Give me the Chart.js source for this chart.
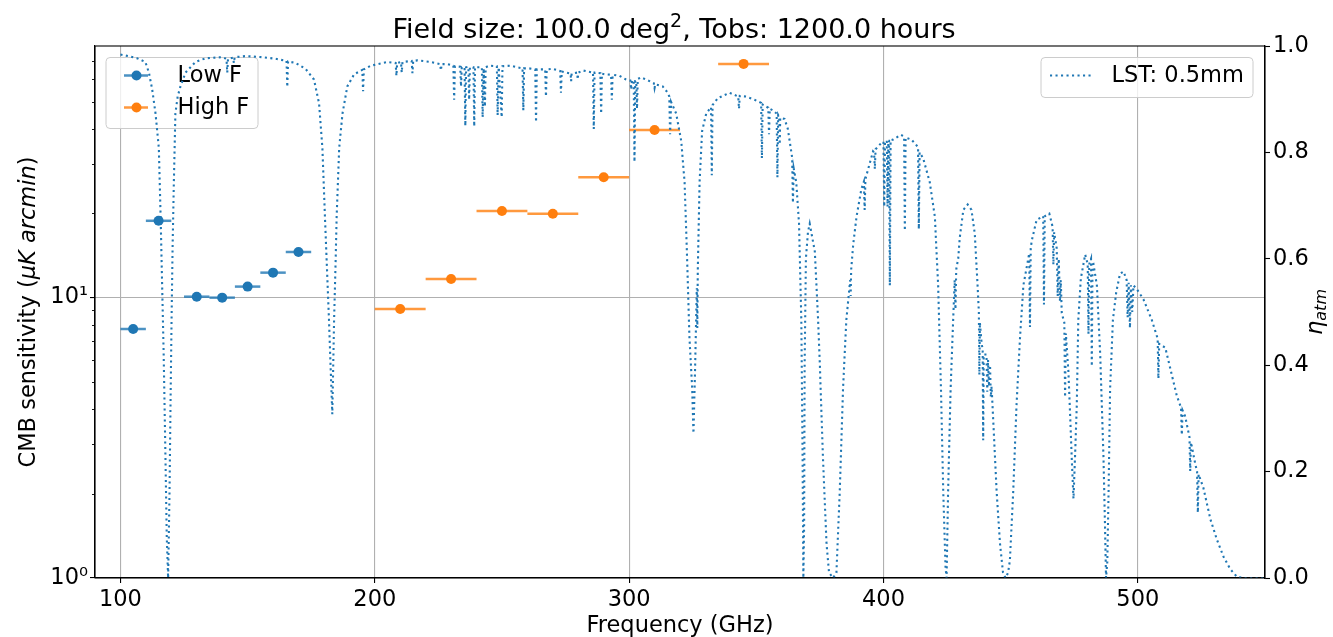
<!DOCTYPE html>
<html>
<head>
<meta charset="utf-8">
<title>CMB sensitivity per band</title>
<script src="https://cdn.jsdelivr.net/npm/chart.js@4.4.1/dist/chart.umd.min.js"></script>
<style>
  html, body { margin: 0; padding: 0; background: #fff; }
  canvas { display: block; }
</style>
</head>
<body>
<canvas id="sensChart" width="1333" height="637"></canvas>
<script>
// Band centres (GHz), CMB sensitivity (uK arcmin) and half band widths
const lowFreq = [105, 115, 130, 140, 150, 160, 170];
const lowSens = [7.73, 18.8, 10.08, 10.0, 10.95, 12.28, 14.55];
const lowHalfBand = [5, 5, 5, 5, 5, 5, 5];

const highFreq = [210, 230, 250, 270, 290, 310, 345];
const highSens = [9.11, 11.66, 20.37, 19.92, 26.9, 39.6, 68.2];
const highHalfBand = [10, 10, 10, 10, 10, 10, 10];

// Atmospheric transmission, 0.5 mm PWV
const atmFreq = [
  100.0, 103.0, 106.5, 109.8, 111.2, 112.5, 113.8, 115.1, 115.8, 116.4,
  117.0, 117.7, 118.2, 118.75, 119.3, 119.7, 120.1, 120.5, 121.0, 121.6,
  122.5, 123.6, 125.6, 129.5, 133.5, 140.0, 141.7, 142.0, 142.3, 144.3,
  144.6, 144.9, 149.2, 155.8, 161.0, 165.3, 165.6, 165.9, 168.9, 172.8,
  176.1, 178.1, 179.4, 180.4, 181.2, 182.0, 182.7, 183.3, 184.0, 184.6,
  185.0, 186.0, 187.3, 189.2, 191.9, 195.1, 195.4, 195.7, 198.4, 205.0,
  208.2, 208.5, 208.8, 210.3, 210.6, 210.9, 214.5, 214.8, 215.1, 216.8,
  222.0, 225.7, 226.0, 226.3, 228.6, 230.9, 231.2, 231.5, 233.6, 233.9,
  234.2, 235.3, 235.6, 235.9, 236.8, 237.1, 237.4, 238.8, 239.1, 239.4,
  241.1, 242.1, 242.4, 242.8, 243.3, 243.6, 245.0, 248.0, 248.3, 248.7,
  249.9, 250.2, 253.5, 256.1, 258.1, 258.4, 258.7, 260.7, 263.1, 263.4,
  263.7, 267.0, 267.3, 267.6, 269.9, 272.9, 273.2, 273.5, 275.2, 277.0,
  277.2, 277.4, 279.6, 279.8, 280.0, 281.8, 285.8, 286.1, 286.4, 288.7,
  289.0, 289.3, 290.3, 292.9, 293.2, 293.5, 296.2, 298.8, 300.5, 300.8,
  301.1, 301.8, 302.1, 302.4, 302.8, 303.1, 303.4, 304.7, 308.0, 309.7,
  310.0, 310.3, 313.2, 315.2, 315.8, 316.1, 316.5, 318.5, 320.5, 321.8,
  322.7, 323.7, 324.8, 325.3, 325.9, 326.6, 326.8, 327.0, 327.7, 328.7,
  330.3, 332.2, 332.5, 332.8, 334.9, 339.5, 342.9, 343.2, 343.5, 346.0,
  349.3, 351.9, 352.2, 352.5, 353.9, 354.7, 355.0, 355.3, 356.5, 358.0,
  358.3, 358.6, 359.0, 359.2, 359.4, 361.1, 362.4, 364.1, 364.4, 364.7,
  365.7, 366.8, 367.7, 368.2, 368.5, 368.8, 369.0, 369.5, 370.3, 371.0,
  373.0, 374.3, 375.0, 375.2, 376.2, 377.6, 378.6, 380.2, 381.5, 382.8,
  384.1, 385.4, 386.9, 387.1, 387.3, 388.1, 389.4, 391.3, 392.3, 392.6,
  392.9, 394.0, 395.9, 396.3, 396.6, 396.9, 399.2, 400.0, 400.3, 400.6,
  401.3, 401.6, 401.9, 402.2, 402.5, 402.8, 403.8, 406.8, 408.1, 408.4,
  408.7, 411.0, 413.6, 413.9, 414.2, 415.6, 418.2, 420.2, 421.5, 422.6,
  423.5, 424.4, 424.8, 425.4, 426.4, 427.4, 428.0, 428.3, 428.6, 429.4,
  430.0, 431.4, 433.1, 434.6, 435.9, 437.0, 437.5, 437.7, 437.9, 438.6,
  439.0, 439.2, 439.4, 440.5, 440.8, 441.1, 441.5, 441.9, 442.2, 442.5,
  443.2, 444.5, 445.8, 447.0, 448.0, 449.0, 449.7, 451.0, 452.3, 453.7,
  455.0, 457.3, 457.6, 457.9, 458.3, 460.2, 462.8, 463.1, 463.4, 465.2,
  466.5, 466.8, 467.1, 468.1, 468.5, 468.9, 469.4, 469.7, 470.1, 471.1,
  471.4, 471.7, 472.7, 473.4, 474.0, 474.7, 475.4, 476.0, 476.6, 477.6,
  479.3, 480.3, 480.6, 480.9, 481.6, 481.9, 482.2, 482.5, 483.9, 485.2,
  486.5, 487.1, 487.5, 488.0, 488.5, 489.1, 490.2, 491.5, 493.0, 494.4,
  495.6, 496.0, 496.4, 496.9, 497.3, 497.8, 498.3, 499.6, 502.2, 505.5,
  507.8, 508.1, 508.4, 510.8, 512.7, 515.3, 517.0, 517.3, 517.6, 518.6,
  520.3, 520.6, 520.9, 522.6, 523.3, 523.6, 523.9, 525.8, 528.5, 531.1,
  533.7, 536.3, 539.0, 541.6, 550.0
];
const atmTrans = [
  0.984, 0.981, 0.977, 0.970, 0.950, 0.918, 0.873, 0.808, 0.680, 0.550,
  0.420, 0.227, 0.080, 0.000, 0.162, 0.330, 0.485, 0.620, 0.744, 0.873,
  0.905, 0.924, 0.950, 0.970, 0.977, 0.979, 0.976, 0.950, 0.976, 0.978,
  0.968, 0.979, 0.981, 0.979, 0.976, 0.972, 0.923, 0.971, 0.968, 0.957,
  0.937, 0.892, 0.808, 0.679, 0.582, 0.485, 0.388, 0.308, 0.485, 0.595,
  0.679, 0.808, 0.873, 0.924, 0.947, 0.955, 0.915, 0.956, 0.963, 0.970,
  0.968, 0.944, 0.968, 0.970, 0.950, 0.970, 0.972, 0.949, 0.972, 0.973,
  0.970, 0.966, 0.954, 0.966, 0.966, 0.963, 0.899, 0.962, 0.961, 0.924,
  0.960, 0.960, 0.850, 0.960, 0.961, 0.899, 0.960, 0.960, 0.849, 0.960,
  0.960, 0.960, 0.866, 0.958, 0.886, 0.960, 0.963, 0.962, 0.870, 0.960,
  0.866, 0.962, 0.963, 0.960, 0.958, 0.879, 0.958, 0.958, 0.956, 0.857,
  0.956, 0.956, 0.905, 0.956, 0.957, 0.953, 0.912, 0.952, 0.950, 0.948,
  0.934, 0.948, 0.950, 0.937, 0.950, 0.954, 0.950, 0.844, 0.950, 0.949,
  0.873, 0.948, 0.947, 0.946, 0.899, 0.946, 0.944, 0.937, 0.935, 0.918,
  0.935, 0.935, 0.782, 0.934, 0.934, 0.882, 0.938, 0.941, 0.934, 0.930,
  0.921, 0.928, 0.924, 0.912, 0.905, 0.834, 0.895, 0.873, 0.821, 0.744,
  0.614, 0.453, 0.356, 0.272, 0.388, 0.545, 0.470, 0.580, 0.744, 0.840,
  0.873, 0.885, 0.757, 0.889, 0.902, 0.912, 0.905, 0.882, 0.906, 0.905,
  0.899, 0.893, 0.789, 0.890, 0.886, 0.884, 0.834, 0.882, 0.879, 0.873,
  0.753, 0.870, 0.866, 0.815, 0.865, 0.863, 0.844, 0.790, 0.705, 0.770,
  0.744, 0.666, 0.485, 0.227, 0.000, 0.100, 0.400, 0.600, 0.650, 0.666,
  0.614, 0.485, 0.400, 0.369, 0.227, 0.065, 0.010, 0.000, 0.010, 0.162,
  0.356, 0.485, 0.560, 0.530, 0.580, 0.627, 0.679, 0.731, 0.745, 0.692,
  0.750, 0.769, 0.802, 0.800, 0.769, 0.806, 0.818, 0.820, 0.698, 0.820,
  0.822, 0.698, 0.822, 0.822, 0.550, 0.823, 0.824, 0.833, 0.830, 0.653,
  0.828, 0.824, 0.810, 0.656, 0.800, 0.789, 0.744, 0.679, 0.550, 0.356,
  0.162, 0.020, 0.000, 0.162, 0.356, 0.485, 0.560, 0.505, 0.580, 0.601,
  0.640, 0.692, 0.702, 0.692, 0.647, 0.550, 0.500, 0.382, 0.480, 0.440,
  0.430, 0.259, 0.420, 0.420, 0.350, 0.410, 0.360, 0.400, 0.340, 0.360,
  0.291, 0.162, 0.065, 0.010, 0.000, 0.010, 0.033, 0.162, 0.324, 0.453,
  0.550, 0.610, 0.472, 0.620, 0.634, 0.673, 0.680, 0.514, 0.680, 0.685,
  0.660, 0.589, 0.650, 0.620, 0.530, 0.600, 0.520, 0.560, 0.498, 0.480,
  0.340, 0.460, 0.388, 0.304, 0.227, 0.149, 0.240, 0.324, 0.485, 0.563,
  0.608, 0.590, 0.459, 0.590, 0.600, 0.398, 0.595, 0.592, 0.550, 0.421,
  0.227, 0.098, 0.000, 0.030, 0.162, 0.356, 0.485, 0.537, 0.572, 0.576,
  0.560, 0.490, 0.555, 0.470, 0.550, 0.500, 0.550, 0.543, 0.524, 0.485,
  0.450, 0.375, 0.440, 0.433, 0.395, 0.343, 0.320, 0.269, 0.315, 0.304,
  0.265, 0.201, 0.255, 0.214, 0.200, 0.123, 0.195, 0.169, 0.111, 0.072,
  0.040, 0.017, 0.002, 0.000, 0.000
];

// Axis ticks
const freqTicks = [100, 200, 300, 400, 500];
const sensTicks = [1, 10];
const sensTickLabels = ['10\u2070', '10\u00b9'];
const sensMinorTicks = [2, 3, 4, 5, 6, 7, 8, 9, 20, 30, 40, 50, 60, 70];
const etaTicks = [0, 0.2, 0.4, 0.6, 0.8, 1.0];

const FONT = '"DejaVu Sans", sans-serif';
const BLUE = '#1f77b4';
const ORANGE = '#ff7f0e';
const GRID = '#b0b0b0';
const DOTS = [2.1, 3.4];
const MARKER_R = 5;
const BAR_W = 2.5;

function toPoints(xs, ys) {
  return xs.map((x, i) => ({ x: x, y: ys[i] }));
}

// draw a run of text pieces with different fonts/offsets, centred on x
function drawRuns(c, runs, x, y) {
  let total = 0;
  runs.forEach(r => {
    c.font = r.font;
    r.w = c.measureText(r.text).width;
    total += r.w;
  });
  let cx = x - total / 2;
  c.textAlign = 'left';
  runs.forEach(r => {
    c.font = r.font;
    c.fillText(r.text, cx, y + (r.dy || 0));
    cx += r.w;
  });
}

function legendFrame(c, x, y, w, h) {
  const r = 4;
  c.save();
  c.beginPath();
  c.moveTo(x + r, y);
  c.arcTo(x + w, y, x + w, y + h, r);
  c.arcTo(x + w, y + h, x, y + h, r);
  c.arcTo(x, y + h, x, y, r);
  c.arcTo(x, y, x + w, y, r);
  c.closePath();
  c.fillStyle = 'rgba(255,255,255,0.8)';
  c.fill();
  c.strokeStyle = '#cccccc';
  c.lineWidth = 1;
  c.stroke();
  c.restore();
}

function drawErrorBars(chart, index) {
  const ds = chart.data.datasets[index];
  const xs = chart.scales.x;
  const ys = chart.scales.y;
  const c = chart.ctx;
  c.save();
  c.strokeStyle = ds.borderColor;
  c.globalAlpha = 0.8;
  c.lineWidth = BAR_W;
  ds.data.forEach((p, i) => {
    const py = ys.getPixelForValue(p.y);
    c.beginPath();
    c.moveTo(xs.getPixelForValue(p.x - ds.halfBand[i]), py);
    c.lineTo(xs.getPixelForValue(p.x + ds.halfBand[i]), py);
    c.stroke();
  });
  c.restore();
}

function drawBandLegend(chart) {
  const c = chart.ctx;
  legendFrame(c, 106, 57.5, 152, 71);
  const rows = [{ ds: chart.data.datasets[0], y: 75.5 }, { ds: chart.data.datasets[1], y: 107.5 }];
  c.save();
  rows.forEach(row => {
    c.strokeStyle = row.ds.borderColor;
    c.globalAlpha = 0.8;
    c.lineWidth = BAR_W;
    c.beginPath();
    c.moveTo(124, row.y);
    c.lineTo(148, row.y);
    c.stroke();
    c.globalAlpha = 1;
    c.fillStyle = row.ds.backgroundColor;
    c.beginPath();
    c.arc(136.5, row.y, MARKER_R, 0, Math.PI * 2);
    c.fill();
    c.fillStyle = '#000';
    c.font = '22.5px ' + FONT;
    c.textAlign = 'left';
    c.textBaseline = 'middle';
    c.fillText(row.ds.label, 177.5, row.y + 1);
  });
  c.restore();
}

const decorations = {
  id: 'decorations',
  beforeDatasetDraw(chart, args) {
    const ds = chart.data.datasets[args.index];
    if (ds.halfBand) drawErrorBars(chart, args.index);
    if (ds.yAxisID === 'y2') drawBandLegend(chart);
  },
  afterDraw(chart) {
    const c = chart.ctx;
    const a = chart.chartArea;
    const ys = chart.scales.y;
    c.save();

    // frame on all four sides
    c.strokeStyle = '#000';
    c.lineWidth = 1.1;
    c.strokeRect(a.left, a.top, a.right - a.left, a.bottom - a.top);

    // minor ticks of the log axis
    c.lineWidth = 0.9;
    sensMinorTicks.forEach(v => {
      const py = Math.round(ys.getPixelForValue(v)) + 0.5;
      c.beginPath();
      c.moveTo(a.left, py);
      c.lineTo(a.left - 3, py);
      c.stroke();
    });

    c.fillStyle = '#000';
    c.textBaseline = 'alphabetic';

    // title
    drawRuns(c, [
      { text: 'Field size: 100.0 deg', font: '27px ' + FONT },
      { text: '2', font: '19px ' + FONT, dy: -11 },
      { text: ', Tobs: 1200.0 hours', font: '27px ' + FONT }
    ], 674, 38);

    // x axis label
    drawRuns(c, [{ text: 'Frequency (GHz)', font: '22.5px ' + FONT }], (a.left + a.right) / 2, 632);

    // left axis label
    c.save();
    c.translate(35, (a.top + a.bottom) / 2);
    c.rotate(-Math.PI / 2);
    drawRuns(c, [
      { text: 'CMB sensitivity (', font: '22.5px ' + FONT },
      { text: '\u03bcK arcmin', font: 'italic 22.5px ' + FONT },
      { text: ')', font: '22.5px ' + FONT }
    ], 0, 0);
    c.restore();

    // right axis label
    c.save();
    c.translate(1322, (a.top + a.bottom) / 2);
    c.rotate(-Math.PI / 2);
    drawRuns(c, [
      { text: '\u03b7', font: 'italic 22.5px ' + FONT },
      { text: 'atm', font: 'italic 16px ' + FONT, dy: 4 }
    ], 0, 0);
    c.restore();

    // legend of the transmission curve
    legendFrame(c, 1041, 57.5, 212, 40);
    const atm = chart.data.datasets[2];
    c.strokeStyle = atm.borderColor;
    c.lineWidth = atm.borderWidth;
    c.setLineDash(atm.borderDash);
    c.beginPath();
    c.moveTo(1050, 75.5);
    c.lineTo(1093, 75.5);
    c.stroke();
    c.setLineDash([]);
    c.font = '22.5px ' + FONT;
    c.textAlign = 'left';
    c.textBaseline = 'middle';
    c.fillText(atm.label, 1111.5, 76.5);

    c.restore();
  }
};

const tickFont = { family: FONT, size: 22.5 };

new Chart(document.getElementById('sensChart'), {
  type: 'scatter',
  data: {
    datasets: [
      {
        label: 'Low F',
        data: toPoints(lowFreq, lowSens),
        halfBand: lowHalfBand,
        yAxisID: 'y',
        backgroundColor: BLUE,
        borderColor: BLUE,
        pointRadius: MARKER_R,
        pointBorderWidth: 0,
        showLine: false,
        order: 2
      },
      {
        label: 'High F',
        data: toPoints(highFreq, highSens),
        halfBand: highHalfBand,
        yAxisID: 'y',
        backgroundColor: ORANGE,
        borderColor: ORANGE,
        pointRadius: MARKER_R,
        pointBorderWidth: 0,
        showLine: false,
        order: 2
      },
      {
        label: 'LST: 0.5mm',
        type: 'line',
        data: toPoints(atmFreq, atmTrans),
        yAxisID: 'y2',
        borderColor: BLUE,
        borderWidth: 2.1,
        borderDash: DOTS,
        borderCapStyle: 'butt',
        pointRadius: 0,
        fill: false,
        tension: 0,
        order: 1
      }
    ]
  },
  options: {
    responsive: false,
    animation: false,
    devicePixelRatio: 1,
    layout: { padding: { top: 46, left: 0, right: 0, bottom: 0 } },
    plugins: {
      legend: { display: false },
      title: { display: false },
      tooltip: { enabled: false }
    },
    scales: {
      x: {
        type: 'linear',
        min: 90,
        max: 550,
        afterBuildTicks: s => { s.ticks = freqTicks.map(v => ({ value: v })); },
        afterFit: s => { s.height = 59; },
        grid: { color: GRID, lineWidth: 1.1, tickColor: '#000', tickLength: 5, tickWidth: 1.1 },
        border: { color: '#000', width: 1.1 },
        ticks: { color: '#000', font: tickFont, padding: 4, maxRotation: 0, autoSkip: false }
      },
      y: {
        type: 'logarithmic',
        position: 'left',
        min: 1,
        max: 79,
        afterBuildTicks: s => { s.ticks = sensTicks.map(v => ({ value: v })); },
        afterFit: s => { s.width = 95; },
        grid: { color: GRID, lineWidth: 1.1, tickColor: '#000', tickLength: 5, tickWidth: 1.1 },
        border: { color: '#000', width: 1.1 },
        ticks: {
          color: '#000',
          font: tickFont,
          padding: 2,
          autoSkip: false,
          callback: v => sensTickLabels[sensTicks.indexOf(v)]
        }
      },
      y2: {
        type: 'linear',
        position: 'right',
        min: 0,
        max: 1,
        afterBuildTicks: s => { s.ticks = etaTicks.map(v => ({ value: v })); },
        afterFit: s => { s.width = 68; },
        grid: { drawOnChartArea: false, tickColor: '#000', tickLength: 5, tickWidth: 1.1 },
        border: { color: '#000', width: 1.1 },
        ticks: { color: '#000', font: tickFont, padding: 3, autoSkip: false, callback: v => v.toFixed(1) }
      }
    }
  },
  plugins: [decorations]
});
</script>
</body>
</html>
